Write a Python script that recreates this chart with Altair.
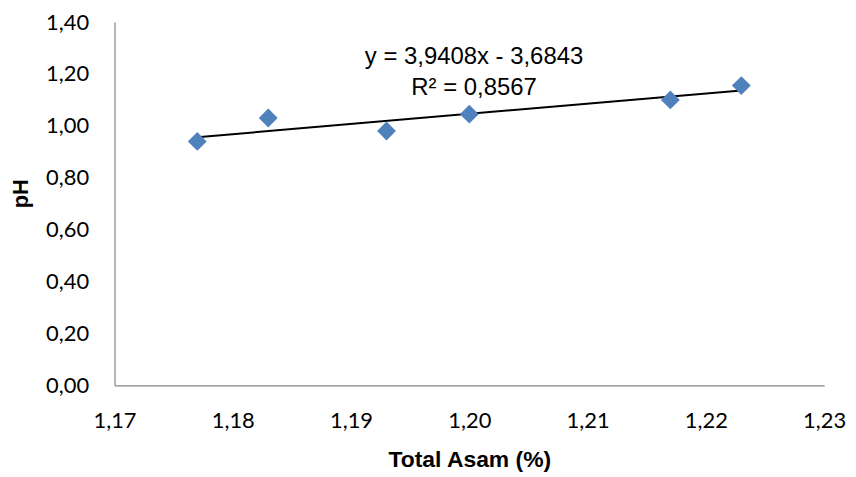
import altair as alt
import pandas as pd

# Data
total_asam = [1.177, 1.183, 1.193, 1.200, 1.217, 1.223]
ph_values = [0.94, 1.03, 0.98, 1.045, 1.10, 1.155]

x_ticks = [1.17, 1.18, 1.19, 1.20, 1.21, 1.22, 1.23]
y_ticks = [0.0, 0.2, 0.4, 0.6, 0.8, 1.0, 1.2, 1.4]

eq_lines = ["y = 3,9408x - 3,6843", "R² = 0,8567"]
eq_x = [1.2004, 1.2004]
eq_y = [1.239, 1.12]

df = pd.DataFrame({"x": total_asam, "y": ph_values})
eq_df = pd.DataFrame({"label": eq_lines, "x": eq_x, "y": eq_y})

comma_fmt = "replace(format(datum.value, '.2f'), '.', ',')"

x_enc = alt.X(
    "x:Q",
    scale=alt.Scale(domain=[1.17, 1.23], nice=False, zero=False),
    axis=alt.Axis(
        values=x_ticks,
        labelExpr=comma_fmt,
        title="Total Asam (%)",
        grid=False,
        ticks=False,
        labelPadding=25,
        labelFont="Lato",
        labelFontSize=22,
        labelColor="#000000",
        labelFlush=False,
        domainColor="#868686",
        domainWidth=1.2,
        titleFont="Liberation Sans",
        titleFontWeight="bold",
        titleFontSize=23,
        titleColor="#000000",
        titleBaseline="alphabetic",
        titleY=82,
    ),
)

y_enc = alt.Y(
    "y:Q",
    scale=alt.Scale(domain=[0, 1.4], nice=False),
    axis=alt.Axis(
        values=y_ticks,
        labelExpr=comma_fmt,
        title="pH",
        grid=False,
        ticks=False,
        labelPadding=26,
        labelFont="Lato",
        labelFontSize=22,
        labelColor="#000000",
        labelFlush=False,
        domainColor="#868686",
        domainWidth=1.2,
        titleFont="Liberation Sans",
        titleFontWeight="bold",
        titleFontSize=22,
        titleColor="#000000",
        titleBaseline="middle",
        titleX=-94,
        titleY=172,
    ),
)

points = alt.Chart(df).mark_point(
    shape="diamond", filled=True, size=360, color="#4F81BD", opacity=1
).encode(x=x_enc, y=y_enc)

trend = (
    alt.Chart(df)
    .transform_regression("x", "y")
    .mark_line(color="#000000", strokeWidth=2)
    .encode(x="x:Q", y="y:Q")
)

eq_text = alt.Chart(eq_df).mark_text(
    font="Liberation Sans", fontSize=24, color="#000000",
    align="center", baseline="alphabetic"
).encode(x="x:Q", y="y:Q", text="label:N")

chart = (
    alt.layer(trend, points, eq_text)
    .properties(
        width=713,
        height=365,
        background="white",
        autosize=alt.AutoSizeParams(type="none"),
        padding={"left": 107, "top": 13, "right": 24, "bottom": 90},
    )
    .configure_view(strokeWidth=0, stroke=None)
)

chart.save("out.html", embed_options={"renderer": "svg", "actions": False})
